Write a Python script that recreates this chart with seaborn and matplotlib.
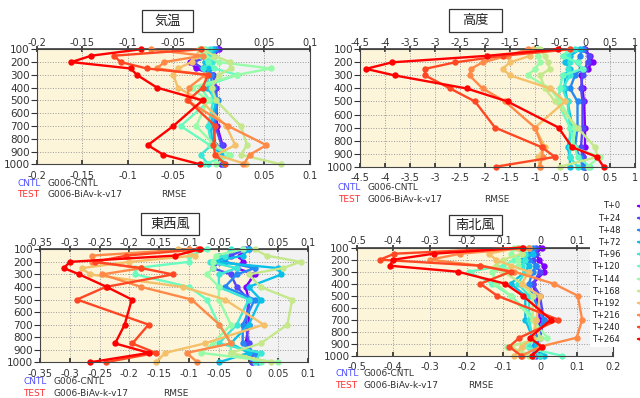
import numpy as np
import pandas as pd
import matplotlib
matplotlib.use("Agg")
import matplotlib.pyplot as plt
from matplotlib.patches import Rectangle
import seaborn as sns

LEVELS = [100, 150, 200, 250, 300, 400, 500, 700, 850, 925, 1000]
LEADS = ["T+0", "T+24", "T+48", "T+72", "T+96", "T+120", "T+144",
         "T+168", "T+192", "T+216", "T+240", "T+264"]

# 気温 (temperature) RMSE difference, one row per lead time
TEMP = [
    [0.000, -0.005, -0.032, -0.025, -0.006, -0.003, -0.003, -0.002, 0.004, 0.000, 0.002],
    [-0.002, -0.010, -0.028, -0.018, -0.006, -0.004, -0.002, -0.004, 0.003, -0.001, 0.004],
    [-0.004, -0.006, -0.012, -0.010, -0.009, -0.007, -0.001, -0.006, -0.004, 0.001, 0.006],
    [-0.006, -0.009, -0.015, -0.012, -0.012, -0.013, -0.003, -0.009, -0.007, 0.002, 0.006],
    [-0.010, -0.012, -0.008, -0.018, -0.014, -0.009, -0.006, -0.012, -0.008, -0.020, -0.012],
    [-0.015, -0.020, -0.012, -0.005, 0.020, -0.020, -0.010, -0.042, -0.010, 0.012, -0.016],
    [-0.022, -0.015, 0.000, 0.057, 0.020, -0.030, -0.012, -0.025, -0.005, 0.012, -0.003],
    [-0.018, -0.005, 0.012, 0.013, 0.000, -0.008, -0.003, 0.024, 0.031, 0.024, 0.068],
    [-0.020, -0.025, -0.030, -0.045, -0.050, -0.045, -0.020, 0.008, 0.018, -0.003, 0.030],
    [-0.075, -0.018, -0.060, -0.068, -0.015, -0.033, -0.035, 0.010, 0.052, 0.034, 0.027],
    [-0.020, -0.115, -0.108, -0.079, -0.012, -0.018, -0.034, -0.004, -0.006, -0.004, 0.007],
    [-0.086, -0.140, -0.162, -0.097, -0.090, -0.068, -0.018, -0.050, -0.078, -0.061, -0.021],
]

# 高度 (geopotential height)
HGT = [
    [0.00, 0.10, 0.15, 0.05, -0.08, -0.05, -0.02, 0.00, 0.00, -0.05, 0.00],
    [-0.02, 0.08, 0.05, 0.00, -0.05, -0.08, -0.05, -0.05, -0.08, -0.05, -0.02],
    [-0.05, -0.10, -0.15, -0.08, -0.20, -0.30, -0.15, -0.15, -0.20, -0.10, -0.05],
    [-0.10, -0.30, -0.40, -0.30, -0.40, -0.40, -0.35, -0.25, -0.35, -0.30, -0.30],
    [-0.20, -0.35, -0.30, -0.35, -0.30, -0.45, -0.35, -0.30, -0.30, -0.30, -0.15],
    [-0.30, -0.45, -0.15, -0.05, -0.45, -0.50, -0.55, -0.30, -0.20, -0.15, 0.10],
    [-0.95, -0.95, -0.90, -1.00, -1.15, -0.70, -0.50, -0.20, -0.25, 0.30, 0.05],
    [-0.90, -0.80, -0.75, -0.70, -0.90, -0.80, -0.60, -0.15, 0.20, 0.25, -0.50],
    [-1.05, -1.10, -1.50, -1.65, -1.50, -0.70, -0.40, -1.00, -0.80, -0.95, -0.90],
    [-1.15, -1.55, -2.05, -2.28, -2.31, -2.05, -1.60, -1.00, -0.85, -0.85, -0.91],
    [-0.30, -1.65, -2.60, -3.20, -3.20, -2.70, -2.20, -1.80, -0.87, -0.60, -1.78],
    [-0.55, -1.96, -3.86, -4.38, -3.81, -2.37, -1.55, -0.53, -0.26, 0.24, 0.37],
]

# 東西風 (zonal wind)
UWND = [
    [0.000, -0.015, -0.010, -0.020, 0.010, -0.005, 0.000, 0.000, -0.005, 0.005, 0.005],
    [-0.005, -0.030, -0.050, -0.060, -0.030, -0.020, 0.000, -0.005, 0.000, 0.005, 0.005],
    [-0.010, -0.050, -0.040, 0.010, -0.020, -0.040, 0.010, -0.010, -0.010, 0.010, 0.015],
    [0.000, -0.010, -0.060, 0.050, 0.055, 0.000, 0.020, 0.000, -0.030, 0.000, -0.050],
    [-0.030, -0.040, -0.065, -0.020, -0.050, -0.050, 0.000, -0.020, -0.050, 0.020, 0.010],
    [-0.070, -0.100, -0.100, -0.190, -0.190, -0.100, -0.070, -0.050, -0.030, -0.030, 0.020],
    [-0.010, -0.055, -0.060, -0.060, -0.070, -0.050, -0.050, -0.030, -0.060, -0.080, 0.050],
    [0.010, 0.030, 0.087, 0.057, 0.000, 0.020, 0.073, 0.065, 0.020, -0.030, 0.037],
    [-0.118, -0.090, -0.200, -0.280, -0.266, -0.110, -0.040, 0.025, -0.074, -0.140, -0.155],
    [-0.100, -0.262, -0.262, -0.180, -0.246, -0.180, -0.096, -0.049, -0.030, -0.104, -0.086],
    [-0.085, -0.205, -0.258, -0.180, -0.127, -0.240, -0.288, -0.168, -0.195, -0.156, -0.240],
    [-0.082, -0.123, -0.300, -0.310, -0.284, -0.238, -0.196, -0.208, -0.224, -0.167, -0.266],
]

# 南北風 (meridional wind)
VWND = [
    [0.005, -0.010, -0.003, 0.010, 0.012, -0.020, -0.010, 0.000, -0.010, -0.012, -0.020],
    [-0.010, -0.010, -0.020, -0.010, 0.000, -0.020, 0.000, 0.010, 0.000, -0.010, -0.010],
    [-0.020, -0.030, -0.030, -0.010, -0.020, -0.030, -0.020, 0.010, -0.010, -0.020, 0.000],
    [-0.030, -0.020, -0.050, -0.030, -0.040, -0.080, -0.040, -0.040, -0.020, -0.010, 0.010],
    [-0.050, -0.040, -0.040, -0.050, -0.040, -0.060, -0.030, -0.030, -0.020, -0.030, 0.000],
    [-0.060, -0.050, -0.070, -0.100, -0.195, -0.130, -0.080, -0.010, 0.000, -0.050, 0.060],
    [-0.070, -0.080, -0.060, -0.060, -0.130, -0.120, -0.080, -0.020, 0.020, -0.090, -0.020],
    [-0.030, -0.050, -0.100, -0.120, -0.100, -0.050, -0.020, -0.020, 0.000, -0.080, -0.030],
    [-0.060, -0.140, -0.120, -0.080, -0.030, -0.050, 0.000, -0.010, -0.020, -0.050, -0.070],
    [-0.030, -0.217, -0.300, -0.163, -0.070, 0.037, 0.103, 0.115, 0.100, 0.000, -0.050],
    [-0.050, -0.397, -0.437, -0.163, -0.080, -0.163, -0.117, 0.050, -0.056, -0.084, -0.051],
    [-0.047, -0.290, -0.400, -0.410, -0.224, -0.095, -0.047, 0.030, -0.028, 0.005, -0.023],
]

TITLES = ["気温", "高度", "東西風", "南北風"]
XTICKS = [
    np.arange(-0.2, 0.1001, 0.05),
    np.arange(-4.5, 1.001, 0.5),
    np.arange(-0.35, 0.1001, 0.05),
    np.arange(-0.5, 0.2001, 0.1),
]

sns.set_theme(style="white")
plt.rcParams["font.family"] = ["DejaVu Sans", "Noto Sans CJK JP"]
plt.rcParams["axes.unicode_minus"] = False

W, H = 640, 398
fig = plt.figure(figsize=(6.4, 3.98), dpi=100)


def fx(x):
    return x / W


def fy(y):
    return 1 - y / H


# axes boxes in pixels: left, top, right, bottom
BOXES = [
    (36.7, 49.3, 310.0, 164.3),
    (360.0, 49.3, 635.0, 166.7),
    (40.0, 249.3, 308.3, 362.3),
    (356.7, 247.7, 613.3, 355.7),
]
TITLE_BOXES = [
    (142, 10, 193, 32),
    (449, 9, 502, 32),
    (141, 213, 199, 235),
    (449, 215, 502, 235),
]
# (x of CNTL/TEST, x of names, y of CNTL row, y of TEST row, x of RMSE)
INFO = [
    (17, 48, 183, 195, 174),
    (338, 368, 187, 199, 497),
    (23, 53, 382, 393, 176),
    (335, 363, 374, 385, 481),
]

colors = plt.cm.rainbow(np.linspace(0, 1, len(LEADS)))
palette = {lead: colors[i] for i, lead in enumerate(LEADS)}

datasets = [TEMP, HGT, UWND, VWND]
axes = []
for k, vals in enumerate(datasets):
    l, t, r, b = BOXES[k]
    ax = fig.add_axes([fx(l), fy(b), fx(r) - fx(l), fy(t) - fy(b)])
    axes.append(ax)
    rows = []
    for i, lead in enumerate(LEADS):
        for j, lev in enumerate(LEVELS):
            rows.append({"lead": lead, "level": lev, "rmse": vals[i][j]})
    df = pd.DataFrame(rows)
    ticks = XTICKS[k]
    xmin, xmax = ticks[0], ticks[-1]
    ax.axvspan(xmin, 0, facecolor="#fdf5da", edgecolor="none", zorder=0)
    ax.axvspan(0, xmax, facecolor="#f2f2f2", edgecolor="none", zorder=0)
    sns.lineplot(data=df, x="rmse", y="level", hue="lead", hue_order=LEADS,
                 palette=palette, orient="y", sort=True, estimator=None,
                 marker="o", markersize=4.6, markeredgewidth=0,
                 linewidth=1.7, legend=False, ax=ax)
    for ln in ax.lines:
        ln.set_clip_on(False)
    ax.set_xlim(xmin, xmax)
    ax.set_ylim(1000, 100)
    ax.set_yticks(range(100, 1001, 100))
    ax.set_xticks(ticks)
    labels = [f"{round(v, 2):g}" for v in ticks]
    labels = ["0" if s in ("-0", "0") else s for s in labels]
    ax.set_xticklabels(labels)
    ax.set_xlabel("")
    ax.set_ylabel("")
    ax.set_facecolor("none")
    ax.grid(True, linestyle=":", color="#9a9a9a", linewidth=0.7)
    ax.set_axisbelow(True)
    for s in ax.spines.values():
        s.set_color("#444444")
        s.set_linewidth(0.8)
    ax.tick_params(axis="x", bottom=True, direction="in", length=3,
                   pad=4.5, labelsize=7, colors="#333333")
    ax.tick_params(axis="y", left=True, direction="out", length=4,
                   width=0.8, pad=1, labelsize=7.5, colors="#333333")
    top_labels = list(labels)
    if k == 3:
        top_labels[-1] = ""  # hidden behind the legend in the reference
    sec = ax.secondary_xaxis("top")
    sec.set_xticks(ticks)
    sec.set_xticklabels(top_labels)
    sec.tick_params(axis="x", direction="inout", length=5, pad=-1.5,
                    labelsize=7, colors="#333333")
    sec.spines["top"].set_color("#444444")

    # title box
    x0, y0, x1, y1 = TITLE_BOXES[k]
    fig.add_artist(Rectangle((fx(x0), fy(y1)), fx(x1) - fx(x0), fy(y0) - fy(y1),
                             transform=fig.transFigure, facecolor="white",
                             edgecolor="#333333", linewidth=0.9))
    fig.text(fx((x0 + x1) / 2), fy((y0 + y1) / 2), TITLES[k],
             family=["Noto Sans CJK JP", "DejaVu Sans"], fontsize=9.5,
             ha="center", va="center", color="#222222")

    # info text
    xa, xb, yc, yt, xr = INFO[k]
    fig.text(fx(xa), fy(yc), "CNTL", color="#4f4fff", fontsize=6.5, va="center")
    fig.text(fx(xb), fy(yc), "G006-CNTL", color="#333333", fontsize=6.5, va="center")
    fig.text(fx(xa), fy(yt), "TEST", color="#ff3030", fontsize=6.5, va="center")
    fig.text(fx(xb), fy(yt), "G006-BiAv-k-v17", color="#333333", fontsize=6.5, va="center")
    fig.text(fx(xr), fy(yt), "RMSE", color="#333333", fontsize=6.5,
             va="center", ha="center")

handles = axes[3].lines[:len(LEADS)]
leg = fig.legend(handles, LEADS, loc="upper right",
                 bbox_to_anchor=(648 / W, fy(199)), bbox_transform=fig.transFigure,
                 markerfirst=False, frameon=True, facecolor="white",
                 edgecolor="none", framealpha=1, fontsize=6,
                 handlelength=0.9, handletextpad=2.15, labelspacing=0.38,
                 borderpad=0.3, borderaxespad=0)
for txt in leg.get_texts():
    txt.set_color("#222222")
leg._legend_box.align = "right"

fig.savefig("out.png", dpi=100)
